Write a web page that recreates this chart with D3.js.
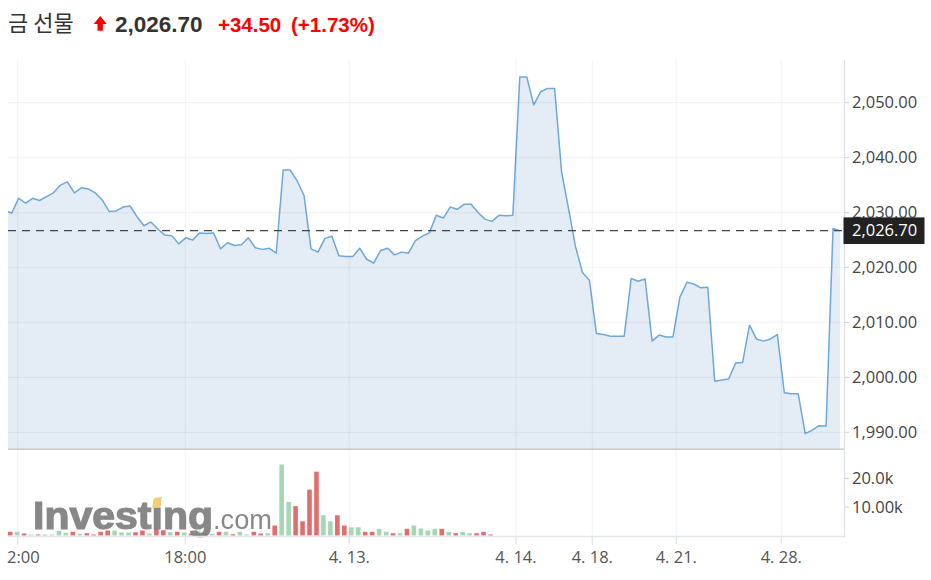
<!DOCTYPE html>
<html><head><meta charset="utf-8">
<script src="https://cdn.jsdelivr.net/npm/d3@7"></script>
<style>body{margin:0;background:#fff;} svg{display:block;}</style>
</head><body><svg id="c" width="931" height="580"></svg>
<script>
// ---------- data ----------
const titleText = "금 선물";
const lastPrice = 2026.70;
const changeText = "+34.50";
const changePctText = "(+1.73%)";
const firstIndex = -1;
const prices = [
 2030.4, 2029.9, 2032.6, 2031.7, 2032.6, 2032.2, 2032.9, 2033.6, 2035.0, 2035.6,
 2033.6, 2034.5, 2034.3, 2033.6, 2032.3, 2030.2, 2030.3, 2031.0, 2031.2, 2029.25,
 2027.6, 2028.3, 2027.0, 2025.9, 2025.8, 2024.3, 2025.4, 2025.0, 2026.3, 2026.2,
 2026.3, 2023.4, 2024.5, 2024.0, 2024.15, 2025.4, 2023.6, 2023.3, 2023.5, 2022.6,
 2037.75, 2037.75, 2035.8, 2033.1, 2023.4, 2022.8, 2025.3, 2025.7, 2022.15, 2022.0,
 2022.0, 2023.5, 2021.5, 2020.8, 2023.1, 2023.5, 2022.3, 2022.8, 2022.6, 2024.9,
 2025.7, 2026.3, 2029.5, 2029.0, 2031.0, 2030.6, 2031.5, 2031.5, 2030.0, 2028.8,
 2028.4, 2029.5, 2029.4, 2029.5, 2054.7, 2054.7, 2049.6, 2052.0, 2052.6, 2052.6,
 2037.4, 2030.7, 2023.8, 2019.1, 2017.7, 2008.0, 2007.8, 2007.5, 2007.5, 2007.5,
 2018.0, 2017.5, 2017.9, 2006.6, 2007.7, 2007.35, 2007.35, 2014.6, 2017.3, 2017.0,
 2016.3, 2016.4, 1999.3, 1999.5, 1999.7, 2002.6, 2002.7, 2009.5, 2007.0, 2006.6,
 2007.0, 2007.8, 1997.2, 1997.0, 1997.0, 1989.75, 1990.4, 1991.2, 1991.15, 2027.1,
 2026.7
];
const volumes = [
 1300, 1300, 700, 350, 350, 350, 350, 1650, 950, 1300,
 600, 800, 350, 1300, 1750, 1750, 1050, 1050, 1150, 1750,
 700, 2450, 1850, 1150, 1300, 1050, 700, 1650, 800, 600,
 1300, 1300, 450, 1300, 350, 1300, 700, 800, 3500, 24900,
 11800, 10300, 5000, 16100, 22400, 7100, 5000, 7100, 3500, 2900,
 2900, 1300, 1300, 2350, 1300, 800, 800, 2350, 3500, 2450,
 1750, 2350, 2350, 1300, 800, 1300, 800, 800, 1300, 350
];
const volumeDir = [
 "down","up","down","up","down","up","up","up","up","down",
 "up","down","down","down","down","up","up","up","down","down",
 "up","down","down","up","down","up","down","up","down","up",
 "down","up","down","up","up","down","down","up","down","up",
 "up","down","down","down","down","up","up","down","down","up",
 "up","down","down","up","up","down","up","down","up","up",
 "up","up","down","up","down","up","up","down","down","down"
];
const xTickPos = [0.86, 24.94, 48.5, 72.45, 83.41, 95.48, 110.57];
const xTickLabels = ["2:00", "18:00", "4. 13.", "4. 14.", "4. 18.", "4. 21.", "4. 28."];
const yTicks = [1990, 2000, 2010, 2020, 2030, 2040, 2050];
const volTicks = [10000, 20000];
const volTickLabels = ["10.00k", "20.0k"];

// ---------- layout ----------
const L = 8, R = 844, T = 60, PB = 449.3, VB = 536.5;
const svg = d3.select("#c");
const x = d3.scaleLinear().domain([0, 119]).range([11.7, 840]);
const y = d3.scaleLinear().domain([1990, 2050]).range([432.3, 102.7]);
const yv = d3.scaleLinear().domain([0, 30000]).range([535.5, 450]);
const fmt = d3.format(",.2f");
const axisFont = "'Open Sans', 'Noto Sans', sans-serif";

const pts = prices.map((v, i) => ({i: i + firstIndex, v}));

const defs = svg.append("defs");
defs.append("clipPath").attr("id", "clipP").append("rect")
  .attr("x", L).attr("y", T).attr("width", R - L - 4).attr("height", PB - T);
const blur = defs.append("filter").attr("id", "soft");
blur.append("feGaussianBlur").attr("stdDeviation", 0.7);

// area + line
const gP = svg.append("g").attr("clip-path", "url(#clipP)");
gP.append("path").datum(pts)
  .attr("d", d3.area().x(d => x(d.i)).y0(PB).y1(d => y(d.v)))
  .attr("fill", "#e4ecf5");

// grid
const grid = svg.append("g");
grid.selectAll(".hg").data(yTicks).join("line")
  .attr("x1", L).attr("x2", R).attr("y1", d => y(d)).attr("y2", d => y(d))
  .attr("stroke", "rgba(0,0,0,0.045)").attr("stroke-width", 1.2);
grid.selectAll(".vg").data(xTickPos).join("line")
  .attr("x1", d => x(d)).attr("x2", d => x(d)).attr("y1", T).attr("y2", VB)
  .attr("stroke", "rgba(0,0,0,0.045)").attr("stroke-width", 1.2);

gP.append("path").datum(pts)
  .attr("d", d3.line().x(d => x(d.i)).y(d => y(d.v)))
  .attr("fill", "none").attr("stroke", "#6ea8d8").attr("stroke-width", 1.5)
  .attr("stroke-linejoin", "round");

// last price dashed line
svg.append("line").attr("x1", L).attr("x2", R - 1)
  .attr("y1", y(lastPrice)).attr("y2", y(lastPrice))
  .attr("stroke", "#444").attr("stroke-width", 1.3).attr("stroke-dasharray", "8,6");

// separator
svg.append("line").attr("x1", L).attr("x2", R).attr("y1", PB).attr("y2", PB)
  .attr("stroke", "#c9c9c9").attr("stroke-width", 1.5);

// volume bars
svg.append("g").selectAll("rect").data(volumes).join("rect")
  .attr("x", (d, i) => x(i) - 1.5 - 2.3).attr("width", 4.6)
  .attr("y", d => yv(d)).attr("height", d => yv(0) - yv(d))
  .attr("fill", (d, i) => volumeDir[i] === "up" ? "#a6d7b5" : "#e36d6d");

// watermark
const wm = svg.append("g").attr("filter", "url(#soft)").attr("opacity", 0.9);
wm.append("text").attr("x", 33).attr("y", 529).text("Investing")
  .attr("font-family", "'Liberation Sans', Arial, sans-serif").attr("font-weight", "bold")
  .attr("font-size", 38).attr("fill", "#7b7b7b")
  .attr("stroke", "#7b7b7b").attr("stroke-width", 1.2)
  .attr("textLength", 180).attr("lengthAdjust", "spacingAndGlyphs");
wm.append("text").attr("x", 213).attr("y", 529).text(".com")
  .attr("font-family", "'Liberation Sans', Arial, sans-serif")
  .attr("font-size", 27).attr("fill", "#7b7b7b")
  .attr("textLength", 59).attr("lengthAdjust", "spacingAndGlyphs");
wm.append("path").attr("d", "M154,498 L162,497 L160,507 L152,508 Z").attr("fill", "#f9c76b");

// axes lines
svg.append("line").attr("x1", L).attr("x2", R).attr("y1", VB).attr("y2", VB)
  .attr("stroke", "#e2e5eb").attr("stroke-width", 1.3);
svg.append("line").attr("x1", R + 0.5).attr("x2", R + 0.5).attr("y1", T).attr("y2", VB + 1)
  .attr("stroke", "#dde1e8").attr("stroke-width", 1.3);

// x ticks + labels
svg.append("g").selectAll("line").data(xTickPos).join("line")
  .attr("x1", d => x(d)).attr("x2", d => x(d)).attr("y1", VB).attr("y2", VB + 8)
  .attr("stroke", "#e2e5eb").attr("stroke-width", 1.3);
svg.append("g").selectAll("text").data(xTickPos).join("text")
  .attr("x", (d, i) => i === 0 ? 7 : x(d)).attr("y", 557).attr("dy", "0.35em")
  .attr("text-anchor", (d, i) => i === 0 ? "start" : "middle")
  .attr("font-family", axisFont).attr("font-size", 16.5).attr("fill", "#555")
  .text((d, i) => xTickLabels[i]);

// y ticks + labels
svg.append("g").selectAll("line").data(yTicks).join("line")
  .attr("x1", R + 1).attr("x2", R + 5).attr("y1", d => y(d)).attr("y2", d => y(d))
  .attr("stroke", "#cfd3da");
svg.append("g").selectAll("text").data(yTicks).join("text")
  .attr("x", 852).attr("y", d => y(d)).attr("dy", "0.35em")
  .attr("font-family", axisFont).attr("font-size", 16.5).attr("fill", "#444")
  .text(d => fmt(d));

// volume ticks
svg.append("g").selectAll("line").data(volTicks).join("line")
  .attr("x1", R + 1).attr("x2", R + 5).attr("y1", d => yv(d)).attr("y2", d => yv(d))
  .attr("stroke", "#cfd3da");
svg.append("g").selectAll("text").data(volTicks).join("text")
  .attr("x", 852).attr("y", d => yv(d)).attr("dy", "0.35em")
  .attr("font-family", axisFont).attr("font-size", 16.5).attr("fill", "#444")
  .text((d, i) => volTickLabels[i]);

// last price label
svg.append("rect").attr("x", R - 0.5).attr("y", y(lastPrice) - 13.3)
  .attr("width", 81).attr("height", 26.6).attr("fill", "#222");
svg.append("text").attr("x", 852).attr("y", y(lastPrice)).attr("dy", "0.35em")
  .attr("font-family", axisFont).attr("font-size", 16.5).attr("fill", "#fff")
  .text(fmt(lastPrice));

// title
const tg = svg.append("g");
tg.append("text").attr("x", 8).attr("y", 31).text(titleText)
  .attr("font-family", "'Noto Sans CJK KR', sans-serif").attr("font-size", 22).attr("fill", "#333");
tg.append("path").attr("d", "M100.2,16 L106.7,24 L102.9,24 L102.9,30.7 L97.5,30.7 L97.5,24 L93.7,24 Z")
  .attr("fill", "#f00");
tg.append("text").attr("x", 115).attr("y", 32).text(fmt(lastPrice))
  .attr("font-family", "'Liberation Sans', Arial, sans-serif").attr("font-weight", "bold")
  .attr("font-size", 22.5).attr("fill", "#333");
tg.append("text").attr("x", 218).attr("y", 32).text(changeText)
  .attr("font-family", "'Liberation Sans', Arial, sans-serif").attr("font-weight", "bold")
  .attr("font-size", 20.5).attr("fill", "#f00");
tg.append("text").attr("x", 291).attr("y", 32).text(changePctText)
  .attr("font-family", "'Liberation Sans', Arial, sans-serif").attr("font-weight", "bold")
  .attr("font-size", 20.5).attr("fill", "#f00");
</script></body></html>
